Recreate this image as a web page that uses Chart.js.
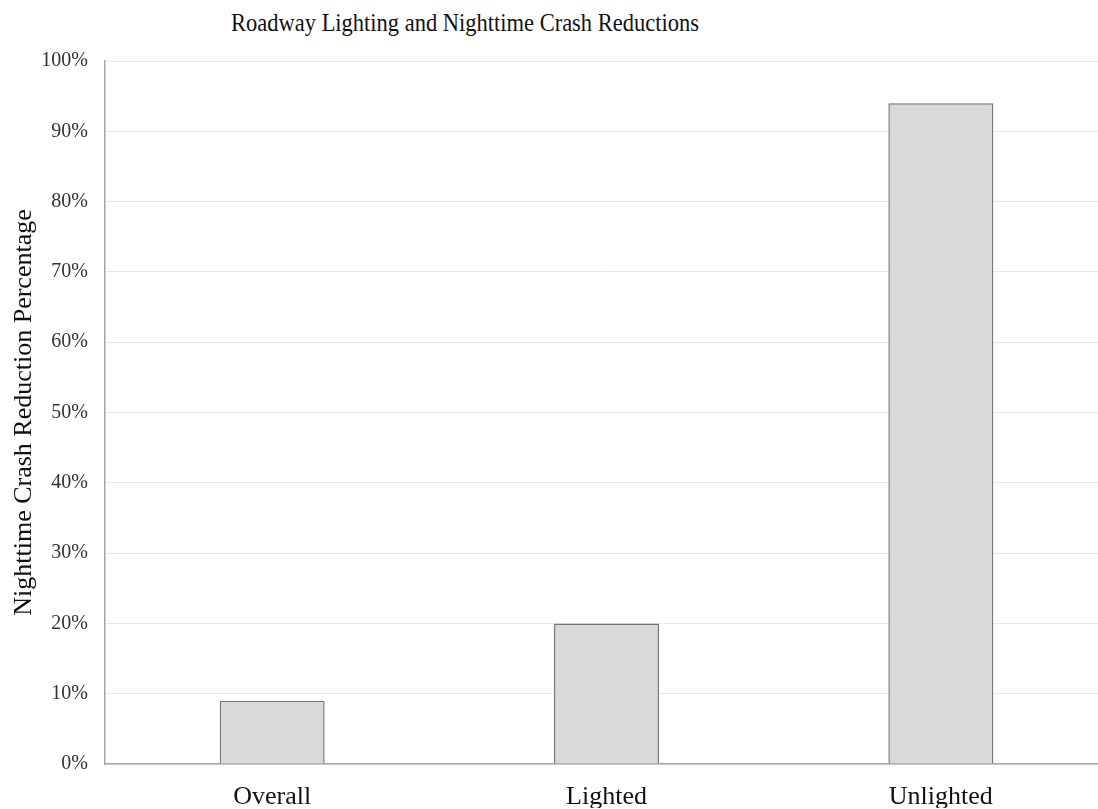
<!DOCTYPE html>
<html>
<head>
<meta charset="utf-8">
<script src="https://cdn.jsdelivr.net/npm/chart.js@4/dist/chart.umd.min.js"></script>
<style>
    html, body { margin: 0; padding: 0; background: #fff; overflow: hidden; width: 1098px; height: 809px; }
    #wrap { position: relative; width: 1098px; height: 809px; overflow: hidden; }
    #chartTitle {
        position: absolute; left: 0; top: 8px; width: 930px;
        text-align: center; font-family: "Liberation Serif", serif; font-size: 26px;
        color: #111; line-height: 30px;
        transform: scaleX(0.865); transform-origin: 465px 0;
    }
    canvas { position: absolute; left: 0; top: 0; }
</style>
</head>
<body>
<div id="wrap">
    <div id="chartTitle">Roadway Lighting and Nighttime Crash Reductions</div>
    <canvas id="crashChart" width="1110" height="809"></canvas>
</div>
<script>
// Chart data
const categories = ['Overall', 'Lighted', 'Unlighted'];
const reductionValues = [9, 20, 94];
const yTicks = [0, 10, 20, 30, 40, 50, 60, 70, 80, 90, 100];

const serif = '"Liberation Serif", "Times New Roman", serif';

const ctx = document.getElementById('crashChart').getContext('2d');

new Chart(ctx, {
    type: 'bar',
    data: {
        labels: categories,
        datasets: [{
            data: reductionValues,
            backgroundColor: '#d9d9d9',
            borderColor: '#777777',
            borderWidth: 1.5,
            categoryPercentage: 1,
            barPercentage: 0.314
        }]
    },
    options: {
        responsive: false,
        animation: false,
        layout: {
            padding: { top: 61, left: 4, right: 2, bottom: 1 }
        },
        plugins: {
            legend: { display: false },
            tooltip: { enabled: false }
        },
        scales: {
            x: {
                afterFit: (scale) => {
                    scale.height = 44;
                },
                grid: { display: false, drawTicks: false },
                border: { color: '#a6a6a6', width: 1.5 },
                ticks: {
                    padding: 21,
                    color: '#111',
                    font: { family: serif, size: 26, lineHeight: 0.9 }
                }
            },
            y: {
                min: 0,
                max: 100,
                afterBuildTicks: (scale) => {
                    scale.ticks = yTicks.map(v => ({ value: v }));
                },
                afterFit: (scale) => {
                    scale.width = 101;
                },
                grid: { color: '#e9e9e9', drawTicks: false },
                border: { color: '#a6a6a6', width: 1.5 },
                ticks: {
                    padding: 17,
                    color: '#333',
                    font: { family: serif, size: 20 },
                    callback: (v) => v + '%'
                },
                title: {
                    display: true,
                    text: 'Nighttime Crash Reduction Percentage',
                    color: '#111',
                    font: { family: serif, size: 26 },
                    padding: { top: 5, bottom: 0 }
                }
            }
        }
    }
});
</script>
</body>
</html>
